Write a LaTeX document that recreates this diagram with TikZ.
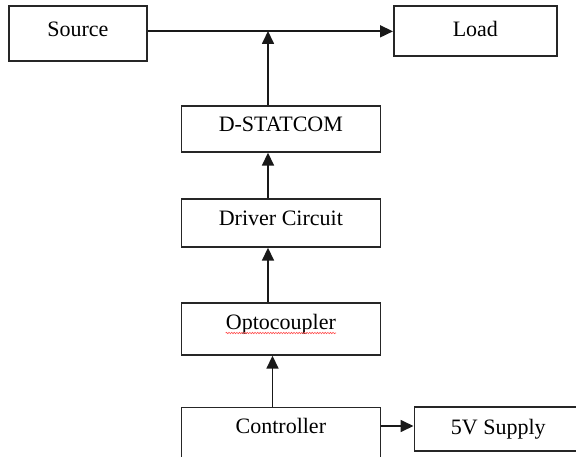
\documentclass[tikz,border=0pt]{standalone}
\usepackage{fontspec}
\setmainfont{Liberation Serif}
\usetikzlibrary{arrows.meta,decorations.pathmorphing}
\begin{document}
\begin{tikzpicture}[x=1pt,y=-1pt,
  box/.style={draw=black!85,line width=1.7pt,rectangle,inner sep=0pt,anchor=north west},
  lbl/.style={anchor=base,inner sep=0pt,font=\fontsize{22}{26}\selectfont},
  conn/.style={draw=black!90,line width=1.7pt},
  arr/.style={conn,-{Triangle[length=13pt,width=12pt]}}]
\useasboundingbox (0,0) rectangle (576,457);
\clip (0,0) rectangle (576,457);
% boxes
\node[box,minimum width=138pt,minimum height=55pt] (src) at (8,5.5) {};
\node[box,minimum width=163pt,minimum height=50pt] (load) at (393,5.5) {};
\node[box,minimum width=199pt,minimum height=45.5pt] (dst) at (180.5,105.5) {};
\node[box,minimum width=199pt,minimum height=48pt] (drv) at (180.5,198) {};
\node[box,minimum width=199pt,minimum height=52pt] (opto) at (180.5,302) {};
\node[box,minimum width=199pt,minimum height=70pt] (ctrl) at (180.5,406.5) {};
\node[box,minimum width=168pt,minimum height=44pt] (sup) at (413.5,406) {};
% texts
\node[lbl] (srct) at (src.north |- 0,37) {Source};
\node[lbl] (loadt) at (load.north |- 0,37) {Load};
\node[lbl] (dstt) at (dst.north |- 0,132) {D-STATCOM};
\node[lbl] (drvt) at (drv.north |- 0,226) {Driver Circuit};
\node[lbl] (optot) at (opto.north |- 0,330) {Optocoupler};
\node[lbl] (ctrlt) at (ctrl.north |- 0,433) {Controller};
\node[lbl] (supt) at (sup.north |- 0,434) {5V Supply};
% spell-check squiggle
\draw[red!70,line width=0.6pt,decorate,decoration={snake,amplitude=0.7pt,segment length=2.6pt}]
  ([yshift=-3pt]optot.base west) -- ([yshift=-3pt]optot.base east);
% connectors
\coordinate (j) at (268,31);
\coordinate (k) at (272.5,0);
\coordinate (m) at (0,426);
\draw[arr] (load.west -| src.east) -- (load.west);
\draw[arr] (dst.north -| j) -- (j);
\draw[arr] (drv.north -| j) -- (dst.south -| j);
\draw[arr] (opto.north -| j) -- (drv.south -| j);
\draw[arr] (ctrl.north -| k) -- (opto.south -| k);
\draw[arr] (ctrl.east |- m) -- (sup.west |- m);
\end{tikzpicture}
\end{document}
